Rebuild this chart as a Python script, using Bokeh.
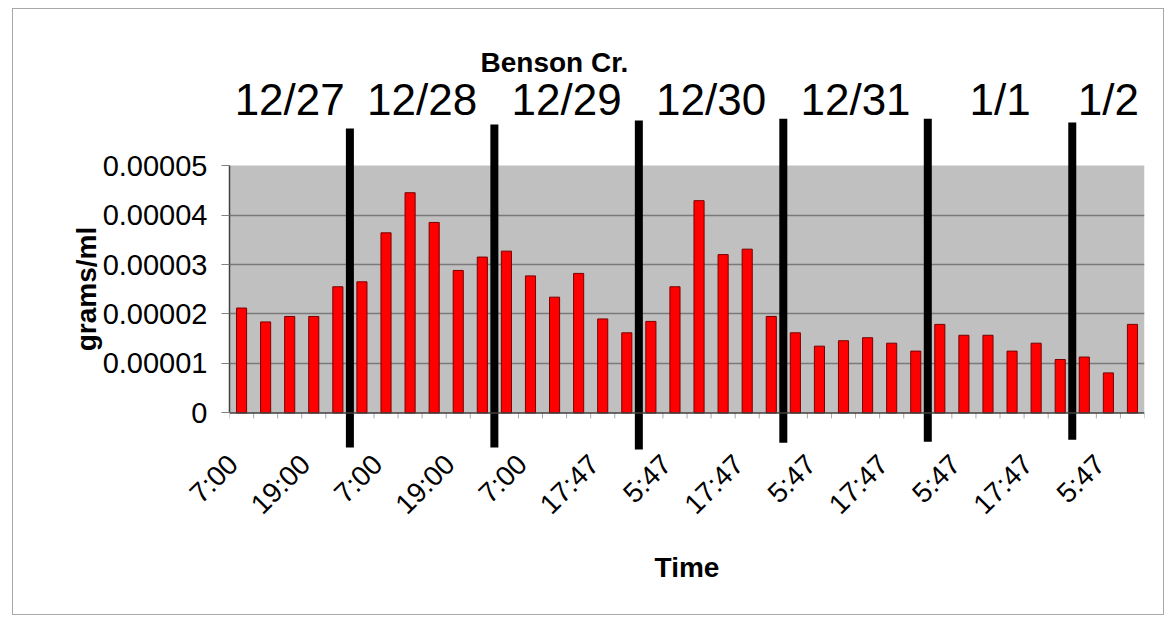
import math

from bokeh.plotting import figure
from bokeh.models import (Range1d, LinearAxis, FixedTicker, BoxAnnotation, Span,
                          Grid, CustomJSTickFormatter)
from bokeh.embed import file_html
from bokeh.resources import INLINE

# Suspended sediment concentration (grams/ml), one value per sample
concentration = [
    0.0000212, 0.0000184, 0.0000195, 0.0000195, 0.0000255,
    0.0000265, 0.0000364, 0.0000445, 0.0000385, 0.0000288, 0.0000315,
    0.0000327, 0.0000277, 0.0000234, 0.0000282, 0.0000190, 0.0000162,
    0.0000185, 0.0000255, 0.0000429, 0.0000320, 0.0000331, 0.0000195,
    0.0000162, 0.0000135, 0.0000146, 0.0000152, 0.0000141, 0.0000125,
    0.0000179, 0.0000157, 0.0000157, 0.0000125, 0.0000141, 0.0000108,
    0.0000113, 0.0000081, 0.0000179,
]

# Every third sample carries a clock-time label
time_ticks = [0, 3, 6, 9, 12, 15, 18, 21, 24, 27, 30, 33, 36]
time_labels = ["7:00", "19:00", "7:00", "19:00", "7:00", "17:47", "5:47",
               "17:47", "5:47", "17:47", "5:47", "17:47", "5:47"]

# Calendar days and the sample index where each one begins
day_labels = ["12/27", "12/28", "12/29", "12/30", "12/31", "1/1", "1/2"]
day_starts = [0, 5, 11, 17, 23, 29, 35]

y_ticks = [0, 0.00001, 0.00002, 0.00003, 0.00004, 0.00005]

FONT = "Liberation Sans"
INK = "black"
n = len(concentration)
x = [i + 0.5 for i in range(n)]
y_top = y_ticks[-1]

# The time axis counts samples from 0; its slanted labels end a little
# left of the bar centre, spreadsheet style
label_shift = 0.65
time_range = Range1d(0.5 - label_shift, n + 0.5 - label_shift)

p = figure(
    width=1152, height=607,
    x_range=Range1d(0, n), y_range=Range1d(-0.0000094, 0.0000595),
    extra_x_ranges={"time_labels": time_range},
    x_axis_type=None, y_axis_type=None,
    output_backend="svg", toolbar_location=None,
    min_border_left=216, min_border_right=21,
    min_border_top=109, min_border_bottom=157,
    outline_line_color=None,
    margin=(8, 0, 0, 12),
    styles={"border": "1px solid #a8a8a8"},
)

# Title
p.title.text = "Benson Cr."
p.title.text_font = FONT
p.title.text_font_size = "28px"
p.title.text_font_style = "bold"
p.title.text_color = INK
p.title.align = "left"
p.title.offset = 251
p.title.standoff = -12

# Grey plot area between 0 and the top of the value axis
p.add_layout(BoxAnnotation(bottom=0, top=y_top, fill_color="#c0c0c0",
                           fill_alpha=1.0, line_color=None, level="image"))

# Horizontal gridlines
p.add_layout(Grid(dimension=1, ticker=FixedTicker(ticks=y_ticks[1:-1]),
                  grid_line_color="#7a7a7a", grid_line_width=1.5))

# Value axis
yaxis = LinearAxis(
    ticker=FixedTicker(ticks=y_ticks),
    formatter=CustomJSTickFormatter(
        code='return Math.abs(tick) < 1e-12 ? "0" : tick.toFixed(5);'),
    bounds=(0, y_top),
    axis_label="grams/ml",
    axis_label_text_font=FONT, axis_label_text_font_size="28px",
    axis_label_text_font_style="bold", axis_label_text_color=INK,
    axis_label_standoff=-2,
    major_label_text_font=FONT, major_label_text_font_size="29px",
    major_label_text_color=INK, major_label_standoff=14,
    axis_line_color="#404040", axis_line_width=1.5,
    major_tick_line_color="#808080", major_tick_out=8, major_tick_in=0,
    minor_tick_line_color=None,
)
p.add_layout(yaxis, "left")

# Time-of-day axis
xaxis = LinearAxis(
    x_range_name="time_labels",
    ticker=FixedTicker(ticks=time_ticks),
    major_label_overrides=dict(zip(time_ticks, time_labels)),
    major_label_orientation=math.pi / 4,
    axis_label="Time",
    axis_label_text_font=FONT, axis_label_text_font_size="28px",
    axis_label_text_font_style="bold", axis_label_text_color=INK,
    axis_label_standoff=18,
    major_label_text_font=FONT, major_label_text_font_size="28px",
    major_label_text_color=INK, major_label_standoff=0,
    axis_line_color=None, major_tick_line_color=None, minor_tick_line_color=None,
    major_tick_out=0, major_tick_in=0,
)
p.add_layout(xaxis, "below")

# Day labels across the top
day_ends = day_starts[1:] + [n]
day_centers = [(a + b) / 2 for a, b in zip(day_starts, day_ends)]
dateaxis = LinearAxis(
    ticker=FixedTicker(ticks=day_centers),
    major_label_overrides={c: lab for c, lab in zip(day_centers, day_labels)},
    major_label_text_font=FONT, major_label_text_font_size="44px",
    major_label_text_color=INK, major_label_standoff=-5,
    axis_line_color=None, major_tick_line_color=None, minor_tick_line_color=None,
    major_tick_out=0, major_tick_in=0,
)
p.add_layout(dateaxis, "above")

# Category baseline and its small tick marks
p.add_layout(Span(location=0, dimension="width", line_color="#404040", line_width=1.5))
edges = list(range(n + 1))
p.segment(x0=edges, x1=edges, y0=[0] * len(edges), y1=[-0.0000011] * len(edges),
          line_color="#a8a8a8", line_width=1)

# Bars
p.vbar(x=x, top=concentration, bottom=0, width=0.42,
       fill_color="#ff0000", line_color="#7a0000", line_width=1)

# Heavy day dividers (hand-drawn extents)
divider_top = [0.0000575, 0.0000583, 0.0000591, 0.0000595, 0.0000595, 0.0000587]
divider_bottom = [-0.0000070, -0.0000070, -0.0000074, -0.0000060, -0.0000058, -0.0000054]
bounds = day_starts[1:]
p.segment(x0=bounds, x1=bounds, y0=divider_bottom, y1=divider_top,
          line_color="black", line_width=8)

open("out.html", "w").write(file_html(p, INLINE))
